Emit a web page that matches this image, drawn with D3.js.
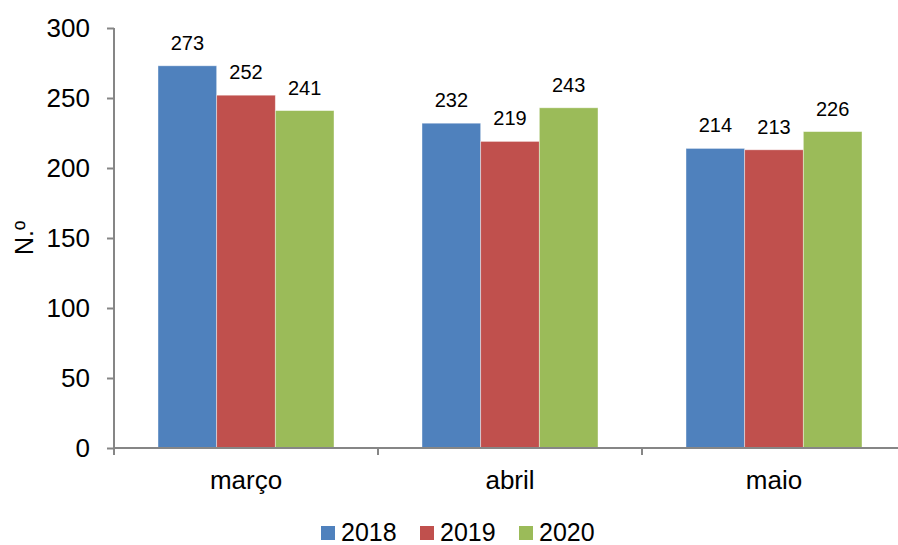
<!DOCTYPE html>
<html>
<head>
<meta charset="utf-8">
<script src="https://cdn.jsdelivr.net/npm/d3@7"></script>
<style>
  body { margin: 0; background: #fff; }
  svg { display: block; font-family: "Liberation Sans", Arial, sans-serif; }
</style>
</head>
<body>
<svg id="chart" width="898" height="545"></svg>
<script>
const categories = ['março', 'abril', 'maio'];
const years = ['2018', '2019', '2020'];
const v2018 = [273, 232, 214];
const v2019 = [252, 219, 213];
const v2020 = [241, 243, 226];
const yTicks = [0, 50, 100, 150, 200, 250, 300];
const colors = ['#4F81BD', '#C0504D', '#9BBB59'];

const series = [v2018, v2019, v2020];
const svg = d3.select('#chart');
const axisColor = '#868686';

const x = d3.scaleBand().domain(categories).range([114, 906])
  .paddingInner(1 / 3).paddingOuter(1 / 6);
const xs = d3.scaleBand().domain(years).range([0, x.bandwidth()]);
const y = d3.scaleLinear().domain([0, 300]).range([448, 28]);

// bars
const groups = svg.append('g').selectAll('g')
  .data(categories).enter().append('g')
  .attr('transform', d => `translate(${x(d)},0)`);

groups.selectAll('rect')
  .data((c, i) => years.map((yr, j) => ({ yr, j, v: series[j][i] })))
  .enter().append('rect')
  .attr('x', d => xs(d.yr))
  .attr('y', d => y(d.v))
  .attr('width', xs.bandwidth())
  .attr('height', d => y(0) - y(d.v))
  .attr('fill', d => colors[d.j])
  .attr('stroke', 'rgba(255,255,255,0.5)')
  .attr('stroke-width', 0.8);

groups.selectAll('text')
  .data((c, i) => years.map((yr, j) => ({ yr, j, v: series[j][i] })))
  .enter().append('text')
  .attr('x', d => xs(d.yr) + xs.bandwidth() / 2)
  .attr('y', d => y(d.v) - 16)
  .attr('text-anchor', 'middle')
  .attr('font-size', 20)
  .attr('fill', '#000')
  .text(d => d.v);

// y axis
const yAxis = svg.append('g').attr('transform', 'translate(114,0)')
  .call(d3.axisLeft(y).tickValues(yTicks).tickSize(7).tickPadding(17));
yAxis.select('.domain').attr('stroke', axisColor).attr('stroke-width', 2)
  .attr('d', `M0,${y(300)}V${y(0)}`);
yAxis.selectAll('.tick line').attr('stroke', axisColor).attr('stroke-width', 2);
yAxis.selectAll('.tick text').attr('font-size', 26).attr('fill', '#000')
  .attr('font-family', '"Liberation Sans", Arial, sans-serif');

// x axis
const xAxis = svg.append('g').attr('transform', `translate(0,${y(0)})`);
xAxis.append('line').attr('x1', 114).attr('x2', 906)
  .attr('stroke', axisColor).attr('stroke-width', 2);
const bounds = categories.map(c => x(c) - x.step() * x.paddingOuter());
bounds.push(906);
xAxis.selectAll('line.tk').data(bounds).enter().append('line')
  .attr('class', 'tk')
  .attr('x1', d => d).attr('x2', d => d)
  .attr('y1', 0).attr('y2', 7)
  .attr('stroke', axisColor).attr('stroke-width', 2);
xAxis.selectAll('text').data(categories).enter().append('text')
  .attr('x', d => x(d) + x.bandwidth() / 2)
  .attr('y', 41)
  .attr('text-anchor', 'middle')
  .attr('font-size', 26)
  .text(d => d);

// y title
svg.append('text')
  .attr('transform', 'translate(33,238) rotate(-90)')
  .attr('text-anchor', 'middle')
  .attr('font-size', 25)
  .text('N.º');

// legend
const legend = svg.append('g').attr('transform', 'translate(321,526)');
const li = legend.selectAll('g').data(years).enter().append('g')
  .attr('transform', (d, i) => `translate(${i * 99},0)`);
li.append('rect').attr('width', 14).attr('height', 14)
  .attr('fill', (d, i) => colors[i]);
li.append('text').attr('x', 20).attr('y', 15)
  .attr('font-size', 25).text(d => d);
</script>
</body>
</html>
